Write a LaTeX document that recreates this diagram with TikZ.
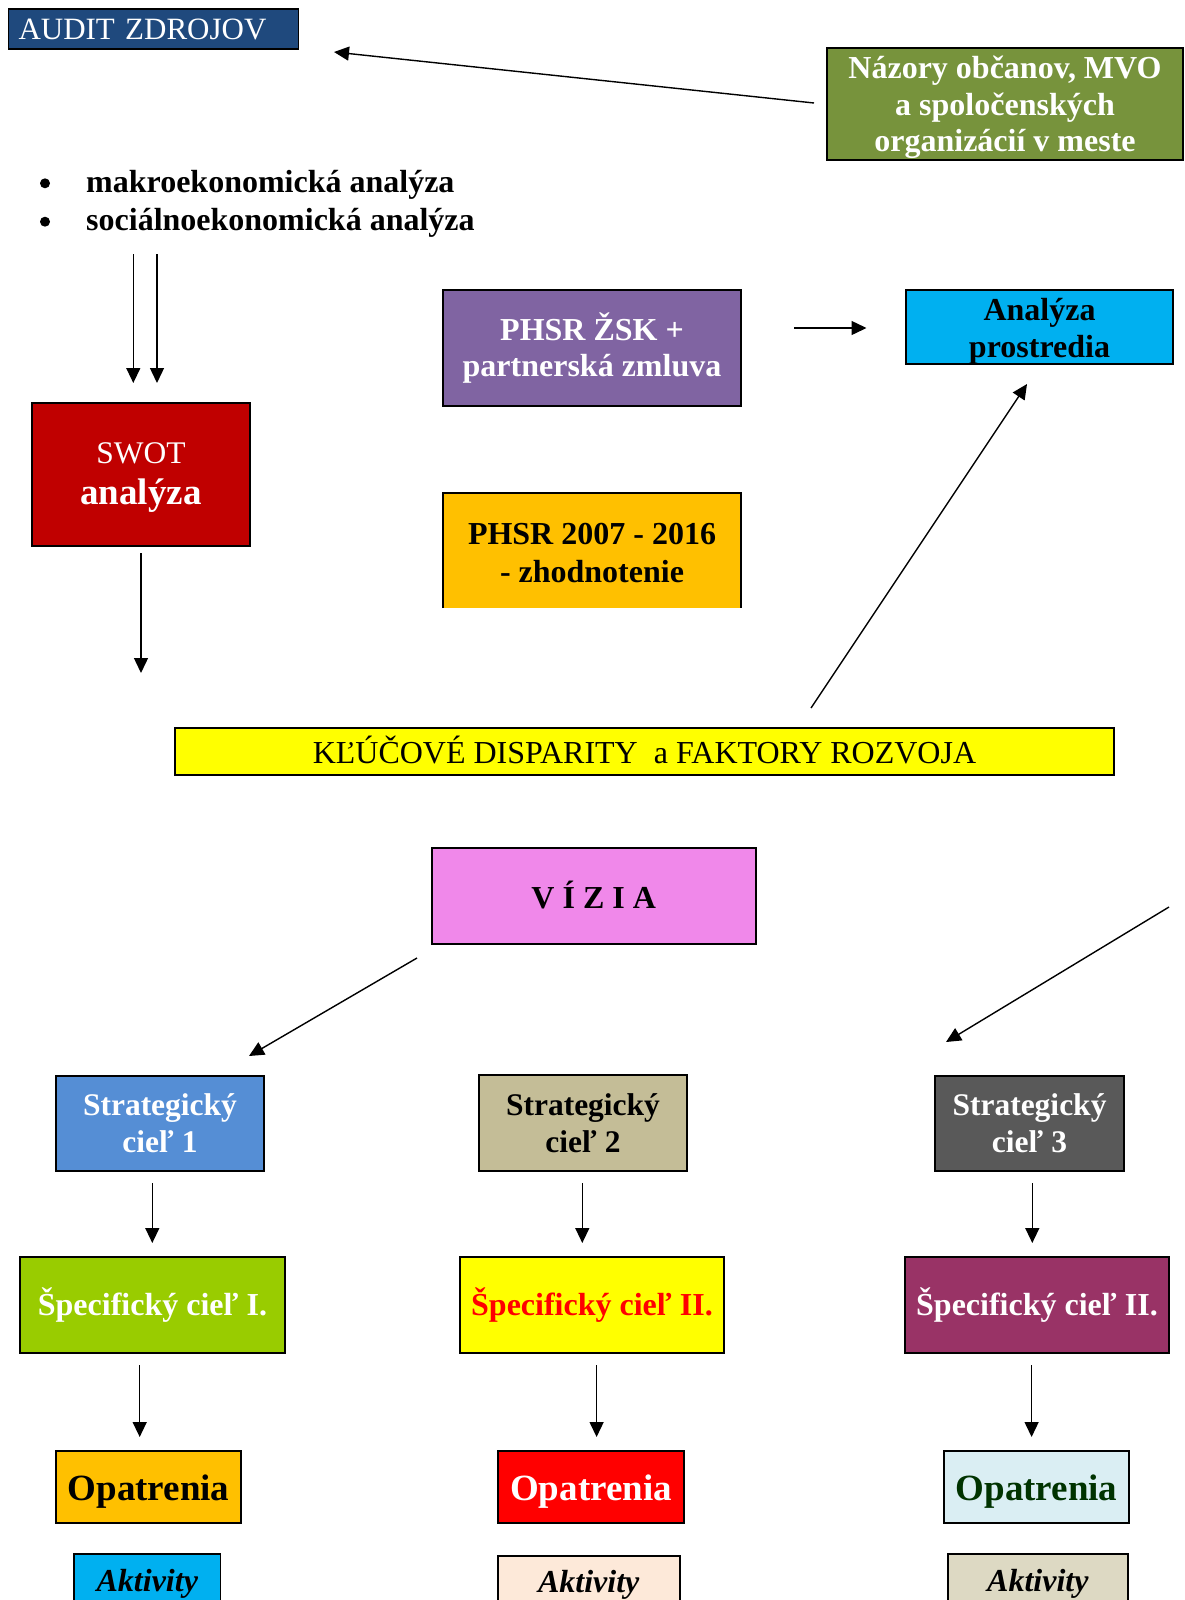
\documentclass[tikz,border=0pt]{standalone}
\usepackage{fontspec}
\setmainfont{Liberation Serif}
\usetikzlibrary{arrows.meta}
\definecolor{auditblue}{HTML}{1F497D}
\definecolor{olivegreen}{HTML}{77933C}
\definecolor{cyanbox}{HTML}{00B0F0}
\definecolor{purplebox}{HTML}{8064A2}
\definecolor{orangebox}{HTML}{FFC000}
\definecolor{swotred}{HTML}{C00000}
\definecolor{yellowbox}{HTML}{FFFF00}
\definecolor{viziapink}{HTML}{F088EA}
\definecolor{stratblue}{HTML}{558ED5}
\definecolor{strattan}{HTML}{C4BD97}
\definecolor{stratgray}{HTML}{595959}
\definecolor{specgreen}{HTML}{99CC00}
\definecolor{specplum}{HTML}{993366}
\definecolor{redbox}{HTML}{FF0000}
\definecolor{lightbluebox}{HTML}{DAEEF3}
\definecolor{darkgreentext}{HTML}{003300}
\definecolor{peachbox}{HTML}{FDE9D9}
\definecolor{khakibox}{HTML}{DDD9C3}
\newcommand{\hstrut}[1]{\rule{0pt}{#1}}
\begin{document}
\begin{tikzpicture}[x=1pt,y=-1pt,
  box/.style={draw=black,line width=1.8pt,inner sep=0pt,align=center},
  bfont/.style={font=\fontsize{32}{36}\selectfont\bfseries},
  opfont/.style={font=\fontsize{37}{40}\selectfont\bfseries,text height=35pt,text depth=8pt},
  akfont/.style={font=\fontsize{32}{36}\selectfont\bfseries\itshape,text height=27.6pt,text depth=7pt},
  conn/.style={-{Triangle[length=15pt,width=14pt]},line width=1.4pt}]
\useasboundingbox (0,0) rectangle (1184,1600);
% top row
\node[box,fill=auditblue,text=white,minimum width=290pt,minimum height=39.4pt,
  text width=270pt,align=left,font=\fontsize{31}{34}\selectfont] (audit) at (153.5,29) {AUDIT ZDROJOV};
\node[box,fill=olivegreen,text=white,minimum width=356pt,minimum height=112pt,
  font=\fontsize{32}{36.7}\selectfont\bfseries] (nazory) at (1005,104)
  {\hstrut{29.6pt}Názory občanov, MVO\\a spoločenských\\organizácií v meste};
% bullets
\node[circle,fill=black,inner sep=0pt,minimum size=10pt] (b1) at (45,183.3) {};
\node[circle,fill=black,inner sep=0pt,minimum size=10pt] (b2) at (45,221.7) {};
\node[bfont,anchor=base west,inner sep=0pt] (t1) at (86,192.5) {makroekonomická analýza};
\node[bfont,anchor=base west,inner sep=0pt] (t2) at (86,230.5) {sociálnoekonomická analýza};
% middle boxes
\node[box,fill=purplebox,text=white,minimum width=298pt,minimum height=116pt,bfont] (phsrzsk) at (592,348)
  {PHSR ŽSK +\\partnerská zmluva};
\node[fill=orangebox,inner sep=0pt,align=center,minimum width=298pt,minimum height=115pt,
  font=\fontsize{32}{37.5}\selectfont\bfseries] (phsr) at (592,550.5)
  {\hstrut{26.6pt}PHSR 2007 - 2016\\- zhodnotenie};
\draw[line width=1.8pt] (phsr.south west) -- (phsr.north west) -- (phsr.north east) -- (phsr.south east);
\node[box,fill=cyanbox,minimum width=267pt,minimum height=74pt,
  font=\fontsize{32}{37}\selectfont\bfseries] (analyza) at (1039.5,327) {\hstrut{30pt}Analýza\\prostredia};
\node[box,fill=swotred,text=white,minimum width=218.3pt,minimum height=143.6pt,
  font=\fontsize{31.5}{41.7}\selectfont] (swot) at (140.9,474.5)
  {\hstrut{27pt}SWOT\\{\fontsize{37}{41.7}\selectfont\bfseries analýza}};
\node[box,fill=yellowbox,minimum width=939pt,minimum height=47pt,font=\fontsize{32}{36}\selectfont,
  text height=25pt,text depth=2pt] (disp) at (644.5,751.5)
  {KĽÚČOVÉ DISPARITY\ \ a FAKTORY ROZVOJA};
\node[box,fill=viziapink,minimum width=324pt,minimum height=96pt,bfont,text height=25pt,text depth=0pt] (vizia) at (593.7,896) {V Í Z I A};
% strategic
\node[box,fill=stratblue,text=white,minimum width=208.6pt,minimum height=95.3pt,
  font=\fontsize{31.5}{37}\selectfont\bfseries] (s1) at (160,1123.3) {Strategický\\cieľ 1};
\node[box,fill=strattan,text=black,minimum width=208pt,minimum height=96pt,
  font=\fontsize{31.5}{37}\selectfont\bfseries] (s2) at (583,1123) {Strategický\\cieľ 2};
\node[box,fill=stratgray,text=white,minimum width=189pt,minimum height=95.3pt,
  font=\fontsize{31.5}{37}\selectfont\bfseries] (s3) at (1029.5,1123.3) {Strategický\\cieľ 3};
% specific
\node[box,fill=specgreen,text=white,minimum width=265.6pt,minimum height=96.3pt,bfont] (sp1) at (152.5,1304.8) {Špecifický cieľ I.};
\node[box,fill=yellowbox,text=redbox,minimum width=263.7pt,minimum height=96.3pt,bfont] (sp2) at (592,1304.8) {Špecifický cieľ II.};
\node[box,fill=specplum,text=white,minimum width=264pt,minimum height=96.3pt,bfont] (sp3) at (1037,1304.8) {Špecifický cieľ II.};
% opatrenia
\node[box,fill=orangebox,text=black,minimum width=185pt,minimum height=72pt,opfont] (o1) at (148.5,1487) {Opatrenia};
\node[box,fill=redbox,text=white,minimum width=186.5pt,minimum height=72pt,opfont] (o2) at (591,1487) {Opatrenia};
\node[box,fill=lightbluebox,text=darkgreentext,minimum width=185pt,minimum height=72pt,opfont] (o3) at (1036.5,1487) {Opatrenia};
% aktivity
\node[box,fill=cyanbox,minimum width=146.5pt,minimum height=53pt,akfont] (a1) at (147.3,1580.7) {Aktivity};
\node[box,fill=peachbox,minimum width=182pt,minimum height=51pt,akfont] (a2) at (588.7,1581.7) {Aktivity};
\node[box,fill=khakibox,minimum width=179.6pt,minimum height=53pt,akfont] (a3) at (1037.8,1580.7) {Aktivity};
% connector end points
\coordinate (c1s) at (814,103);    \coordinate (c1e) at (334,52);
\coordinate (c2s) at (133.3,254);  \coordinate (c2e) at (133.3,383);
\coordinate (c3s) at (157,254);    \coordinate (c3e) at (157,383);
\coordinate (c4s) at (794.3,328);  \coordinate (c4e) at (866.5,328);
\coordinate (c5s) at (141,553);    \coordinate (c5e) at (141,673);
\coordinate (c6s) at (811,708);    \coordinate (c6e) at (1027,384);
\coordinate (c7s) at (417,958);    \coordinate (c7e) at (249,1056);
\coordinate (c8s) at (1169,907);   \coordinate (c8e) at (946,1042);
\coordinate (c9s) at (152.3,1183); \coordinate (c9e) at (152.3,1243);
\coordinate (c10s) at (582.3,1183);\coordinate (c10e) at (582.3,1243);
\coordinate (c11s) at (1032.3,1183);\coordinate (c11e) at (1032.3,1243);
\coordinate (c12s) at (139.7,1365);\coordinate (c12e) at (139.7,1437);
\coordinate (c13s) at (596.6,1365);\coordinate (c13e) at (596.6,1437);
\coordinate (c14s) at (1031.6,1365);\coordinate (c14e) at (1031.6,1437);
\foreach \i in {1,...,14} {\draw[conn] (c\i s) -- (c\i e);}
\end{tikzpicture}
\end{document}
